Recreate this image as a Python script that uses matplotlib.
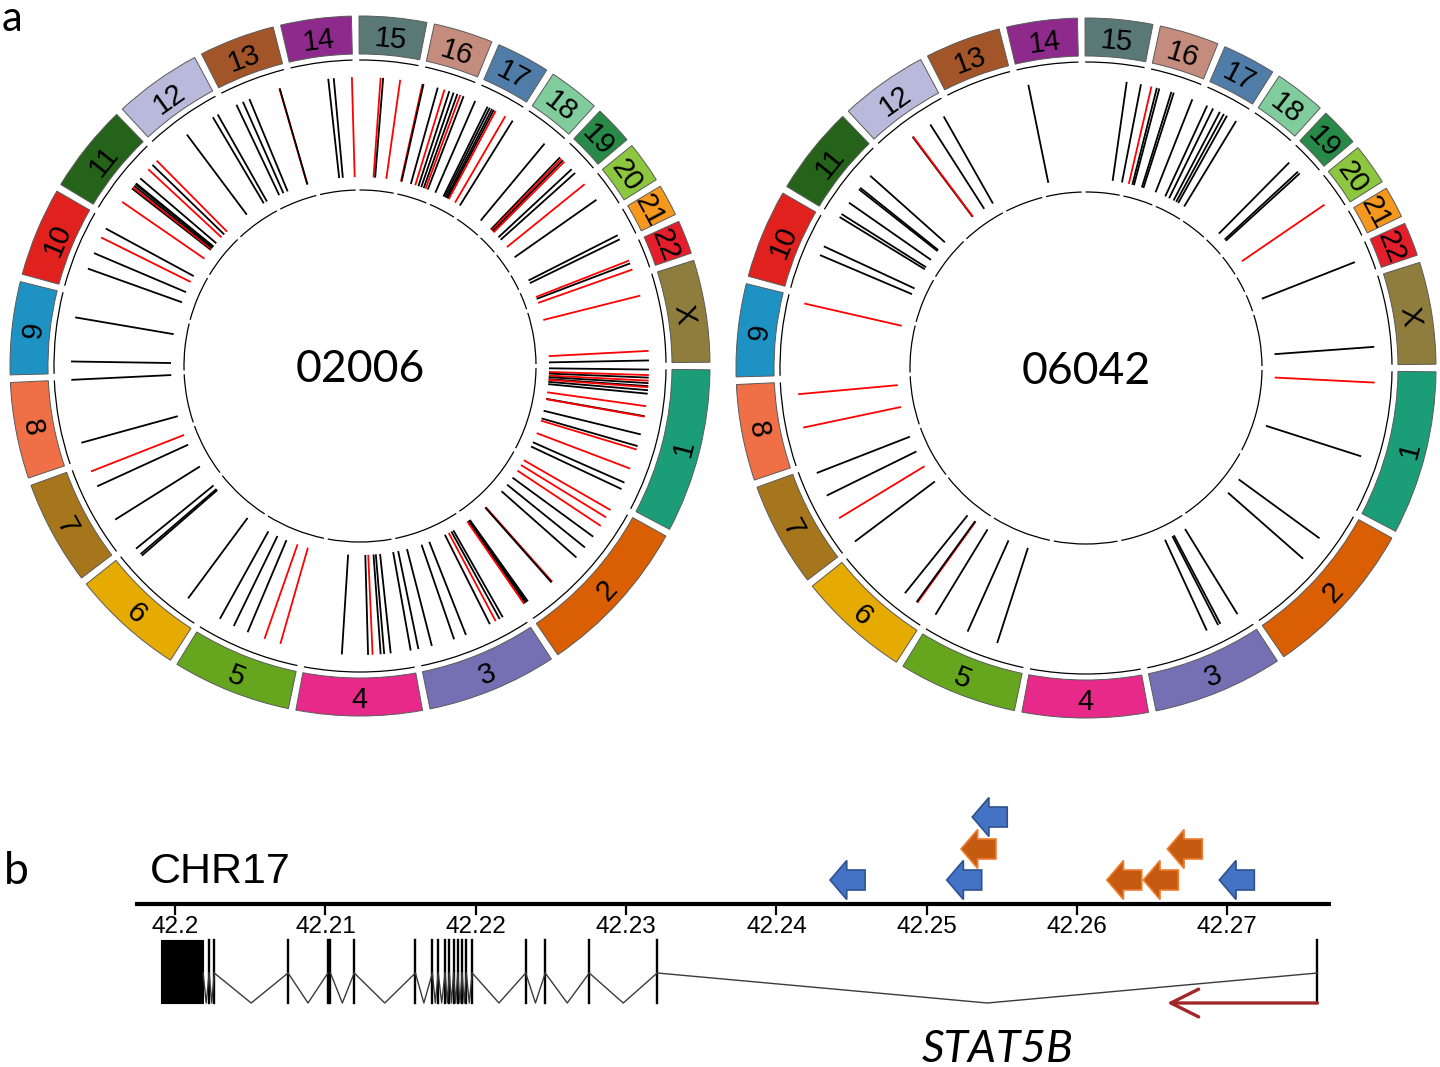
import numpy as np
import matplotlib
matplotlib.use("Agg")
import matplotlib.pyplot as plt
from matplotlib.patches import Wedge, Arc, Rectangle, Polygon
from matplotlib.collections import LineCollection
from matplotlib import font_manager as fm

# ---------------------------------------------------------------- data
CHROMS = [str(i) for i in range(1, 23)] + ["X"]
CHROM_LEN = [249.25, 243.20, 198.02, 191.15, 180.92, 171.12, 159.14, 146.36,
             141.21, 135.53, 135.01, 133.85, 115.17, 107.35, 102.53, 90.35,
             81.20, 78.08, 59.13, 63.03, 48.13, 51.30, 155.27]
CHROM_COLORS = ["#1B9E77", "#D95F02", "#7570B3", "#E7298A", "#66A61E", "#E6AB02",
                "#A6761D", "#EF7047", "#1F92C4", "#E0211D", "#25631A", "#B9BADB",
                "#A3552A", "#8E2A8C", "#597876", "#C48C7C", "#507DA8", "#80CC9C",
                "#278A48", "#8DC63F", "#F5981D", "#E41E2B", "#8E7D3C"]

# sample 02006 : chromosome, position (Mb), colour class
S1_CHROM = (["1"] * 18 + ["2"] * 12 + ["3"] * 8 + ["4"] * 7 + ["5"] * 5 + ["6"] * 4 +
            ["7"] * 3 + ["8"] * 2 + ["9"] * 2 + ["10"] * 4 + ["11"] * 10 + ["12"] * 3 +
            ["13"] * 5 + ["14"] * 3 + ["15"] * 3 + ["16"] * 9 + ["17"] * 8 + ["18"] * 1 +
            ["19"] * 6 + ["20"] * 2 + ["21"] * 2 + ["22"] * 3 + ["X"] * 3)
S1_POS = [0.7, 10.8, 15.4, 20.9, 25.4, 30.9, 32.8, 38.3, 44.7, 67.6, 85.9, 86.8, 119.8, 141.8, 148.3, 184.9, 212.4, 225.3,
          7.6, 23.2, 41.5, 65.4, 90.1, 114.0, 176.3, 178.1, 233.1, 235.9, 238.6, 241.4,
          32.5, 38.9, 47.2, 59.1, 106.8, 129.7, 171.9, 197.0,
          1.8, 38.5, 50.4, 56.8, 71.5, 79.7, 127.4,
          38.4, 68.6, 101.6, 129.1, 157.5,
          33.9, 148.5, 152.2, 165.0,
          47.5, 116.3, 145.6,
          30.0, 146.0,
          21.6, 102.2,
          41.2, 71.5, 102.7, 121.0,
          30.9, 61.1, 63.9, 67.5, 71.2, 73.0, 84.9, 106.9, 117.9, 128.9,
          54.9, 111.7, 121.8,
          14.9, 27.8, 40.6, 98.4, 99.0,
          62.4, 72.5, 105.5,
          39.0, 43.6, 74.8,
          2.0, 3.9, 30.5, 43.3, 52.5, 60.7, 68.0, 73.5, 80.0,
          1.0, 25.8, 30.3, 34.9, 38.6, 42.3, 62.4, 78.0,
          56.8,
          4.9, 8.5, 12.2, 15.9, 35.1, 44.3,
          0.5, 36.0,
          36.7, 45.0,
          27.6, 33.1, 45.0,
          31.8, 133.5, 150.9]
S1_TYPE = list("krkrkkrkkrkrkkrrkk" +
               "rrrkkkrkkkkr" +
               "kkrkkkkk" +
               "kkkkrkk" +
               "rrkkk" +
               "kkkk" +
               "kkr" +
               "kk" +
               "kk" +
               "kkrk" +
               "rkrkkkkrkr" +
               "kkk" +
               "kkkrk" +
               "kkr" +
               "rkr" +
               "rkkrkkkrk" +
               "kkkkkrrk" +
               "k" +
               "krkrkk" +
               "rk" +
               "kk" +
               "rkr" +
               "rrk")

# sample 06042
S2_CHROM = (["1"] * 2 + ["2"] * 2 + ["3"] * 4 + ["5"] * 3 + ["6"] * 3 + ["7"] * 4 +
            ["8"] * 2 + ["9"] * 1 + ["10"] * 2 + ["11"] * 6 + ["12"] * 4 + ["14"] * 1 +
            ["15"] * 2 + ["16"] * 6 + ["17"] * 6 + ["19"] * 3 + ["20"] * 1 + ["22"] * 1 +
            ["X"] * 1)
S2_POS = [20.8, 157.4,
          64.5, 112.1,
          14.2, 49.9, 54.5, 77.4,
          55.8, 113.5, 179.5,
          26.6, 28.4, 55.0,
          3.5, 54.8, 101.6, 146.5,
          62.1, 123.5,
          131.6,
          71.5, 88.9,
          2.4, 8.9, 33.6, 63.9, 67.5, 95.9,
          54.2, 55.2, 93.4, 121.8,
          14.8,
          75.7, 102.0,
          7.5, 17.6, 22.2, 45.0, 49.6, 85.4,
          12.9, 24.8, 38.6, 46.8, 53.3, 72.5,
          13.1, 36.0, 40.6,
          42.5,
          26.7,
          122.5]
S2_TYPE = list("rk" + "kk" + "kkkk" + "kkk" + "rkk" + "krkk" + "rr" + "r" + "kk" +
               "kkkkkk" + "krkk" + "k" + "kk" + "rkkkkk" + "kkkkkk" + "kkk" + "r" +
               "k" + "k")

SAMPLES = ["02006", "06042"]

# panel b : STAT5B locus on chr17 (Mb)
TICKS = [42.20, 42.21, 42.22, 42.23, 42.24, 42.25, 42.26, 42.27]
AXIS_RANGE = (42.1973, 42.2769)
EXON_START = [42.19904, 42.20226, 42.20260, 42.20751, 42.21016, 42.21033, 42.21191,
              42.21598, 42.21711, 42.21750, 42.21796, 42.21824, 42.21852, 42.21880,
              42.21909, 42.21937, 42.21976, 42.22332, 42.22462, 42.22755, 42.23207,
              42.27600]
EXON_END = [42.20186] + EXON_START[1:]
TSS_ARROW_END = 42.2660
BLUE_PRIMERS = [42.24357, 42.25133, 42.25303, 42.26947]
BLUE_ROWS = [0, 0, 2, 0]
ORANGE_PRIMERS = [42.25228, 42.26198, 42.26441, 42.26601]
ORANGE_ROWS = [1, 0, 0, 1]


# ---------------------------------------------------------------- fonts
def font_ok(name):
    try:
        fm.findfont(fm.FontProperties(family=name), fallback_to_default=False)
        return True
    except Exception:
        return False


SANS = "Liberation Sans" if font_ok("Liberation Sans") else "DejaVu Sans"
NARROW = "Liberation Sans Narrow" if font_ok("Liberation Sans Narrow") else None
ROUND = "Lato" if font_ok("Lato") else "DejaVu Sans"

# ---------------------------------------------------------------- figure
W, H = 1440, 1067
fig = plt.figure(figsize=(W / 100, H / 100), dpi=100)
fig.patch.set_facecolor("white")

GAP = 1.25
DEG_PER_MB = (360 - GAP * len(CHROMS)) / sum(CHROM_LEN)
STARTS = []
_p = GAP / 2
for L in CHROM_LEN:
    STARTS.append(_p)
    _p += L * DEG_PER_MB + GAP

R_BOX_OUT, R_BOX_W = 350, 38
R_RING, R_INNER = 306, 176
R_LINE_IN, R_LINE_OUT = 189, 289
R_LABEL = 331


def draw_circos(ax, name, chroms, pos, types):
    for i, c in enumerate(CHROMS):
        p0 = STARTS[i]
        p1 = p0 + CHROM_LEN[i] * DEG_PER_MB
        ax.add_patch(Wedge((0, 0), R_BOX_OUT, -p1, -p0, width=R_BOX_W,
                           facecolor=CHROM_COLORS[i], edgecolor="#5a5a5a", lw=0.7))
        for r in (R_RING, R_INNER):
            ax.add_patch(Arc((0, 0), 2 * r, 2 * r, theta1=-p1, theta2=-p0,
                             color="black", lw=0.9))
        mid = 0.5 * (p0 + p1)
        th = np.deg2rad(-mid)
        rot = (-mid - 90) if mid > 180 else (90 - mid)
        ax.text(R_LABEL * np.cos(th), R_LABEL * np.sin(th), c, rotation=rot,
                rotation_mode="anchor", ha="center", va="center_baseline",
                fontsize=21, family=SANS, color="black")
    segs, cols = [], []
    for c, p, t in zip(chroms, pos, types):
        i = CHROMS.index(c)
        phi = STARTS[i] + min(p, CHROM_LEN[i]) * DEG_PER_MB
        th = np.deg2rad(-phi)
        segs.append([(R_LINE_IN * np.cos(th), R_LINE_IN * np.sin(th)),
                     (R_LINE_OUT * np.cos(th), R_LINE_OUT * np.sin(th))])
        cols.append("#FF0000" if t == "r" else "black")
    ax.add_collection(LineCollection(segs, colors=cols, linewidths=1.3))
    ax.text(0, -16, name, ha="center", va="baseline", fontsize=32,
            family=ROUND, color="black")
    ax.set_axis_off()


# circle 1, centre at pixel (360, 366)
ax1 = fig.add_axes([0, (H - 726) / H, 720 / W, 720 / H])
ax1.set_xlim(-360, 360)
ax1.set_ylim(-360, 360)
draw_circos(ax1, SAMPLES[0], S1_CHROM, S1_POS, S1_TYPE)

# circle 2, centre at pixel (1086, 368)
ax2 = fig.add_axes([720 / W, (H - 728) / H, 720 / W, 720 / H])
ax2.set_xlim(720 - 1086, 1440 - 1086)
ax2.set_ylim(-360, 360)
draw_circos(ax2, SAMPLES[1], S2_CHROM, S2_POS, S2_TYPE)

# ---------------------------------------------------------------- panel b
PX_PER_MB = 15030.0
X0_PX = 175.2          # pixel of 42.20
axb = fig.add_axes([0, 0, 1, (H - 760) / H])
axb.set_xlim(42.2 - X0_PX / PX_PER_MB, 42.2 + (W - X0_PX) / PX_PER_MB)
axb.set_ylim(H, 760)
axb.set_axis_off()

Y_AXIS = 904
axb.plot(AXIS_RANGE, [Y_AXIS, Y_AXIS], color="black", lw=3.0, solid_capstyle="butt")
for v in TICKS:
    axb.plot([v, v], [Y_AXIS, Y_AXIS + 10], color="black", lw=1.6)
    axb.text(v, Y_AXIS + 12, f"{v:g}", ha="center", va="top", fontsize=17.5,
             family=SANS)

Y_EX_TOP, Y_EX_BOT, Y_INTRON = 940, 1003, 973
for s, e in zip(EXON_START, EXON_END):
    if e - s > 0.0003:
        axb.add_patch(Rectangle((s, Y_EX_TOP), e - s, Y_EX_BOT - Y_EX_TOP,
                                facecolor="black", edgecolor="black", lw=0.8))
    else:
        axb.plot([s, s], [Y_EX_TOP, Y_EX_BOT], color="black", lw=1.7)
for i in range(len(EXON_START) - 1):
    a, b = EXON_END[i], EXON_START[i + 1]
    if b - a > 0.0002:
        axb.plot([a, 0.5 * (a + b), b], [Y_INTRON, Y_EX_BOT, Y_INTRON],
                 color="#3a3a3a", lw=1.0)

axb.annotate("", xy=(TSS_ARROW_END, Y_EX_BOT), xytext=(EXON_START[-1], Y_EX_BOT),
             arrowprops=dict(arrowstyle="->,head_length=1.0,head_width=0.5",
                             color="#A0282A", lw=2.4, shrinkA=0, shrinkB=0,
                             mutation_scale=20))

ROW_Y = [880, 849, 817]
A_LEN = 35 / PX_PER_MB
A_HEAD = 16.7 / PX_PER_MB
A_HH, A_SH = 19.5, 10.0


def primer(tip, row, fc, ec):
    yc = ROW_Y[row]
    verts = [(tip, yc), (tip + A_HEAD, yc - A_HH), (tip + A_HEAD, yc - A_SH),
             (tip + A_LEN, yc - A_SH), (tip + A_LEN, yc + A_SH),
             (tip + A_HEAD, yc + A_SH), (tip + A_HEAD, yc + A_HH)]
    axb.add_patch(Polygon(verts, closed=True, facecolor=fc, edgecolor=ec, lw=1.2,
                          joinstyle="miter"))


for t, r in zip(BLUE_PRIMERS, BLUE_ROWS):
    primer(t, r, "#4472C4", "#2F528F")
for t, r in zip(ORANGE_PRIMERS, ORANGE_ROWS):
    primer(t, r, "#C55A11", "#ED7D31")

if NARROW:
    axb.text(42.2 - 25 / PX_PER_MB, 883, "CHR17", ha="left", va="baseline",
             fontsize=34, family=NARROW)
else:
    axb.text(42.2 - 25 / PX_PER_MB, 883, "CHR17", ha="left", va="baseline",
             fontsize=31, family=SANS)
axb.text(42.2 + (998 - X0_PX) / PX_PER_MB, 1049, "STAT5B", ha="center",
         va="center", fontsize=32, style="italic", family=ROUND)

# panel letters
fig.text(2 / W, 1 - 31 / H, "a", fontsize=30, family=ROUND, va="baseline")
fig.text(4 / W, 1 - 884 / H, "b", fontsize=32, family=ROUND, va="baseline")

fig.savefig("out.png", dpi=100, facecolor="white")
